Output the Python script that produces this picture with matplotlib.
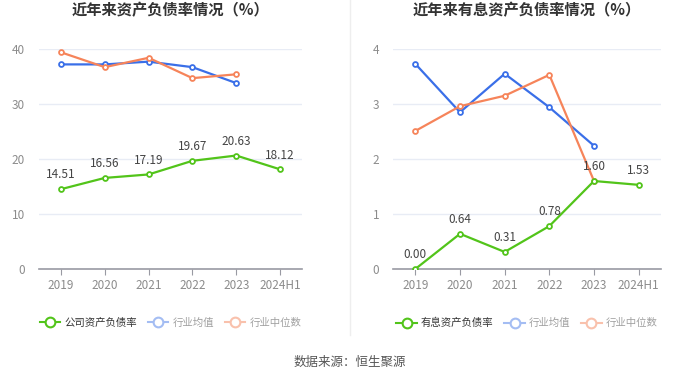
import matplotlib

matplotlib.use("Agg")
import matplotlib.pyplot as plt
from matplotlib.lines import Line2D

plt.rcParams["font.family"] = ["Noto Sans CJK SC", "DejaVu Sans"]

years = ["2019", "2020", "2021", "2022", "2023", "2024H1"]

debt_ratio = [14.51, 16.56, 17.19, 19.67, 20.63, 18.12]
debt_ind_avg = [37.2, 37.2, 37.7, 36.7, 33.8]
debt_ind_median = [39.4, 36.7, 38.4, 34.7, 35.4]

int_ratio = [0.00, 0.64, 0.31, 0.78, 1.60, 1.53]
int_ind_avg = [3.73, 2.85, 3.55, 2.94, 2.24]
int_ind_median = [2.51, 2.96, 3.15, 3.53, 1.60]

GREEN = "#52c41a"
BLUE = "#3a6fe8"
ORANGE = "#f6845a"
GRID = "#e8ecf5"
TICK = "#8c8c8c"


def draw_panel(ax, title, company, avg, median, ylim, yticks, label_name):
    x = list(range(len(years)))
    ax.set_xlim(-0.5, len(years) - 0.5)
    ax.set_ylim(*ylim)
    ax.set_yticks(yticks)
    ax.yaxis.grid(True, color=GRID, linewidth=1)
    ax.set_axisbelow(True)
    for s in ["top", "right", "left"]:
        ax.spines[s].set_visible(False)
    ax.spines["bottom"].set_color("#999aa3")
    ax.spines["bottom"].set_linewidth(1.2)
    ax.tick_params(axis="y", length=0, colors=TICK, labelsize=8.5, pad=10)
    ax.tick_params(axis="x", length=4, color="#999aa3", colors=TICK, labelsize=8.5)
    ax.set_xticks(x)
    ax.set_xticklabels(years)

    mk = dict(marker="o", markersize=3.5, markerfacecolor="white", markeredgewidth=1.3, linewidth=1.6)
    ax.plot(x[: len(avg)], avg, color=BLUE, **mk, zorder=3)
    ax.plot(x[: len(median)], median, color=ORANGE, **mk, zorder=3)
    ax.plot(x, company, color=GREEN, **mk, zorder=4)
    span = ylim[1] - ylim[0]
    for xi, v in zip(x, company):
        ax.text(xi, v + span * 0.035, f"{v:.2f}", ha="center", va="bottom",
                fontsize=8.5, color="#444444", zorder=5)
    ax.set_title(title, fontsize=11, fontweight="bold", color="#333333", pad=24)

    handles = [
        Line2D([], [], color=GREEN, marker="o", markersize=7, markerfacecolor="white",
               markeredgewidth=1.5, linewidth=1.5),
        Line2D([], [], color="#a4bdf3", marker="o", markersize=7, markerfacecolor="white",
               markeredgewidth=1.5, linewidth=1.5),
        Line2D([], [], color="#f9c1ac", marker="o", markersize=7, markerfacecolor="white",
               markeredgewidth=1.5, linewidth=1.5),
    ]
    leg = ax.legend(handles, [label_name, "行业均值", "行业中位数"], loc="upper center",
                    bbox_to_anchor=(0.5, -0.18), ncol=3, frameon=False, fontsize=7.5,
                    handlelength=2.0, columnspacing=1.0, handletextpad=0.4)
    texts = leg.get_texts()
    texts[0].set_color("#333333")
    texts[1].set_color("#a0a0a0")
    texts[2].set_color("#a0a0a0")


fig = plt.figure(figsize=(7, 3.78), dpi=100)
ax1 = fig.add_axes([39 / 700, 1 - 269 / 378, 263 / 700, 220 / 378])
ax2 = fig.add_axes([393 / 700, 1 - 269 / 378, 268 / 700, 220 / 378])

draw_panel(ax1, "近年来资产负债率情况（%）", debt_ratio, debt_ind_avg, debt_ind_median,
           (0, 40), [0, 10, 20, 30, 40], "公司资产负债率")
draw_panel(ax2, "近年来有息资产负债率情况（%）", int_ratio, int_ind_avg, int_ind_median,
           (0, 4), [0, 1, 2, 3, 4], "有息资产负债率")

fig.add_artist(Line2D([350 / 700, 350 / 700], [1 - 335 / 378, 1.0], color="#eeeeee", linewidth=1))
fig.text(0.5, 1 - 362 / 378, "数据来源：恒生聚源", ha="center", va="center", fontsize=9, color="#555555")

fig.savefig("out.png", dpi=100)
